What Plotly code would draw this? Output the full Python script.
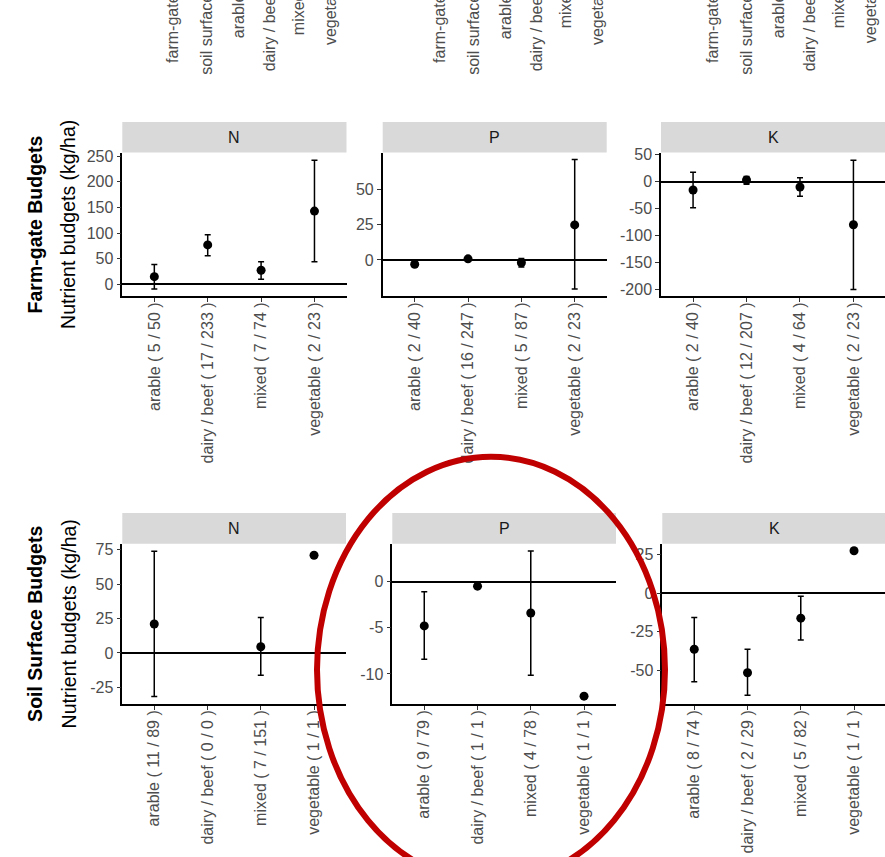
import plotly.graph_objects as go

W, H = 885, 857
FONT = "Liberation Sans, Arial, sans-serif"
TICK_GREY = "#4D4D4D"

crops = ["arable", "dairy / beef", "mixed", "vegetable"]

# (number of studies / number of observations) per farm type
fg_N_counts = [(5, 50), (17, 233), (7, 74), (2, 23)]
fg_P_counts = [(2, 40), (16, 247), (5, 87), (2, 23)]
fg_K_counts = [(2, 40), (12, 207), (4, 64), (2, 23)]
ss_N_counts = [(11, 89), (0, 0), (7, 151), (1, 1)]
ss_P_counts = [(9, 79), (1, 1), (4, 78), (1, 1)]
ss_K_counts = [(8, 74), (2, 29), (5, 82), (1, 1)]

# Farm-gate budgets (kg/ha): mean and interval bounds
fg_N_mean = [15, 77, 27.5, 143]
fg_N_low = [-9, 56, 10, 44]
fg_N_high = [39, 97, 44, 242]

fg_P_mean = [-3, 0.8, -2, 24.7]
fg_P_low = [-4.5, 0.1, -5, -20.5]
fg_P_high = [-1.5, 1.5, 1, 70.8]

fg_K_mean = [-15.4, 3, -10, -80]
fg_K_low = [-48.5, -5, -27, -200]
fg_K_high = [17.6, 9.7, 7.3, 39.7]

# Soil surface budgets (kg/ha)
ss_N_mean = [21, None, 4.5, 71]
ss_N_low = [-31.6, None, -16.3, None]
ss_N_high = [73.9, None, 25.7, None]

ss_P_mean = [-4.8, -0.5, -3.4, -12.4]
ss_P_low = [-8.4, None, -10.15, None]
ss_P_high = [-1.1, None, 3.3, None]

ss_K_mean = [-36.3, -51.5, -16.2, 27.4]
ss_K_low = [-57.4, -66, -30.3, None]
ss_K_high = [-15.8, -36.3, -2.1, None]

# y-axis ticks per panel
fg_N_ticks = [0, 50, 100, 150, 200, 250]
fg_P_ticks = [0, 25, 50]
fg_K_ticks = [-200, -150, -100, -50, 0, 50]
ss_N_ticks = [-25, 0, 25, 50, 75]
ss_P_ticks = [-10, -5, 0]
ss_K_ticks = [-50, -25, 0, 25]

panels = [
    # nutrient, counts, mean, low, high, ticks, yrange, box (left, right, top, bottom) px
    ("N", fg_N_counts, fg_N_mean, fg_N_low, fg_N_high, fg_N_ticks, [-23.2, 257], (122.3, 346.5, 148, 293)),
    ("P", fg_P_counts, fg_P_mean, fg_P_low, fg_P_high, fg_P_ticks, [-25.6, 75.7], (382.7, 606.7, 148, 293)),
    ("K", fg_K_counts, fg_K_mean, fg_K_low, fg_K_high, fg_K_ticks, [-212.7, 53.9], (661.0, 885.5, 148, 293)),
    ("N", ss_N_counts, ss_N_mean, ss_N_low, ss_N_high, ss_N_ticks, [-37.2, 79.4], (122.3, 346.0, 542.7, 704.7)),
    ("P", ss_P_counts, ss_P_mean, ss_P_low, ss_P_high, ss_P_ticks, [-13.26, 4.1], (392.3, 616.0, 542.7, 704.7)),
    ("K", ss_K_counts, ss_K_mean, ss_K_low, ss_K_high, ss_K_ticks, [-71.8, 32.0], (662.3, 886.0, 542.7, 704.7)),
]

STRIP_H = 31


def px_x(v):
    return min(max(v / W, 0.0), 1.0)


def px_y(v):
    return 1 - v / H


fig = go.Figure()
layout = {}
shapes = []
annotations = []

for i, (nut, counts, mean, low, high, ticks, yr, box) in enumerate(panels, start=1):
    left, right, top, bottom = box
    # panels running past the right edge keep their category spacing
    vis_right = min(right, W)
    xmax = -0.6 + 4.2 * (vis_right - left) / (right - left)
    labels = [f"{c} ( {a} / {b} )" for c, (a, b) in zip(crops, counts)]
    up = [None if (h is None or m is None) else h - m for m, h in zip(mean, high)]
    dn = [None if (l is None or m is None) else m - l for m, l in zip(mean, low)]
    xa = "x" if i == 1 else f"x{i}"
    ya = "y" if i == 1 else f"y{i}"
    fig.add_trace(go.Scatter(
        x=labels, y=mean, mode="markers", xaxis=xa, yaxis=ya,
        marker=dict(color="black", size=9),
        error_y=dict(type="data", symmetric=False, array=up, arrayminus=dn,
                     color="black", thickness=1.5, width=3),
        showlegend=False, hoverinfo="skip",
    ))
    xkey = "xaxis" if i == 1 else f"xaxis{i}"
    ykey = "yaxis" if i == 1 else f"yaxis{i}"
    layout[xkey] = dict(
        domain=[px_x(left), px_x(vis_right)], anchor=ya,
        type="category", categoryorder="array", categoryarray=labels,
        range=[-0.6, xmax], showgrid=False, zeroline=False,
        showline=True, linecolor="black", linewidth=1.5,
        ticks="outside", ticklen=4, tickwidth=1.2, tickcolor="#333333",
        tickangle=-90, ticklabelstandoff=-6,
        tickfont=dict(family=FONT, size=16, color=TICK_GREY),
        fixedrange=True,
    )
    layout[ykey] = dict(
        domain=[px_y(bottom), px_y(top)], anchor=xa,
        range=yr, tickvals=ticks, ticktext=[str(t) for t in ticks],
        showgrid=False,
        zeroline=True, zerolinecolor="black", zerolinewidth=1.5,
        showline=True, linecolor="black", linewidth=1.5,
        ticks="outside", ticklen=4, tickwidth=1.2, tickcolor="#333333",
        tickfont=dict(family=FONT, size=16, color=TICK_GREY),
        fixedrange=True,
    )
    # facet strip
    shapes.append(dict(type="rect", xref="paper", yref="paper",
                       x0=px_x(left), x1=px_x(vis_right),
                       y0=px_y(top), y1=px_y(top - STRIP_H),
                       fillcolor="#D9D9D9", line=dict(width=0), layer="below"))
    annotations.append(dict(text=nut, xref="paper", yref="paper",
                            x=(left + right) / 2 / W, y=px_y(top - STRIP_H / 2),
                            showarrow=False, xanchor="center", yanchor="middle",
                            font=dict(family=FONT, size=16, color="#1A1A1A")))

# row titles
row_titles = ["Farm-gate Budgets", "Soil Surface Budgets"]
row_centres = [220.5, 623.7]
for title, yc in zip(row_titles, row_centres):
    annotations.append(dict(text=f"<b>{title}</b>", xref="paper", yref="paper",
                            x=px_x(35), y=px_y(yc), textangle=-90, showarrow=False,
                            xanchor="center", yanchor="middle",
                            font=dict(family=FONT, size=19.5, color="black")))
    annotations.append(dict(text="Nutrient budgets (kg/ha)", xref="paper", yref="paper",
                            x=px_x(68.5), y=px_y(yc), textangle=-90, showarrow=False,
                            xanchor="center", yanchor="middle",
                            font=dict(family=FONT, size=19.5, color="black")))

# rotated labels running off the top edge
top_labels = ["farm-gate", "soil surface", "arable", "dairy / beef", "mixed", "vegetable"]
group_x = [173, 440, 713]
label_dx = [0, 34, 65, 96, 125, 157]
label_bottoms = [
    [60, 72, 35, 68, 32, 42],
    [60, 72, 35, 68, 25, 42],
    [60, 72, 35, 68, 25, 40],
]
for gx, bottoms in zip(group_x, label_bottoms):
    for lab, dx, yb in zip(top_labels, label_dx, bottoms):
        annotations.append(dict(text=lab, xref="paper", yref="paper",
                                x=px_x(gx + dx), y=px_y(yb), textangle=-90,
                                showarrow=False, xanchor="center", yanchor="bottom",
                                font=dict(family=FONT, size=16, color=TICK_GREY)))

# red highlight ellipse
cx, cy, ax, by = 491, 670, 174, 215
shapes.append(dict(type="circle", xref="paper", yref="paper",
                   x0=(cx - ax) / W, x1=(cx + ax) / W,
                   y0=1 - (cy + by) / H, y1=1 - (cy - by) / H,
                   line=dict(color="#C00000", width=6), layer="above"))

fig.update_layout(
    width=W, height=H, margin=dict(l=0, r=0, t=0, b=0),
    paper_bgcolor="white", plot_bgcolor="white",
    shapes=shapes, annotations=annotations, showlegend=False,
    font=dict(family=FONT),
    **layout,
)

fig.write_html("out.html")
